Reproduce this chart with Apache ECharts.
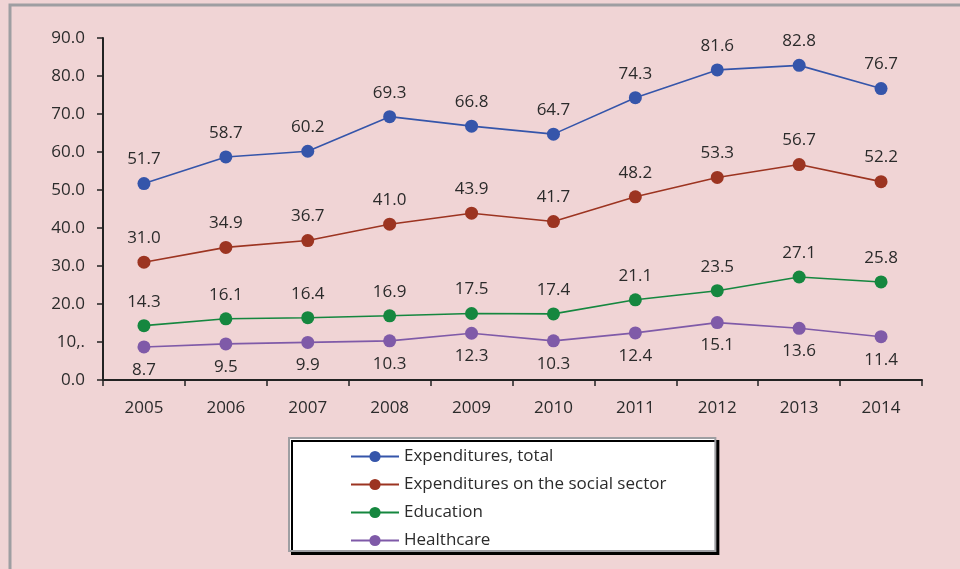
<!DOCTYPE html>
<html>
<head>
<meta charset="utf-8">
<script src="https://cdn.jsdelivr.net/npm/echarts@6/dist/echarts.min.js"></script>
<style>
  html, body { margin: 0; padding: 0; background: #f0d4d5; }
  #chart { width: 960px; height: 569px; }
</style>
</head>
<body>
<div id="chart"></div>
<script>
const years = ['2005', '2006', '2007', '2008', '2009', '2010', '2011', '2012', '2013', '2014'];
const expendituresTotal = [51.7, 58.7, 60.2, 69.3, 66.8, 64.7, 74.3, 81.6, 82.8, 76.7];
const socialSector = [31.0, 34.9, 36.7, 41.0, 43.9, 41.7, 48.2, 53.3, 56.7, 52.2];
const education = [14.3, 16.1, 16.4, 16.9, 17.5, 17.4, 21.1, 23.5, 27.1, 25.8];
const healthcare = [8.7, 9.5, 9.9, 10.3, 12.3, 10.3, 12.4, 15.1, 13.6, 11.4];
const yTickLabels = ['0.0', '10,.', '20.0', '30.0', '40.0', '50.0', '60.0', '70.0', '80.0', '90.0'];
const seriesNames = ['Expenditures, total', 'Expenditures on the social sector', 'Education', 'Healthcare'];

const FONT = '"Open Sans", "Noto Sans", sans-serif';
const TEXT = '#2b2b2b';
const FS = 17;

function lineSeries(name, data, color, labelPos, labelDist) {
  return {
    name: name,
    type: 'line',
    data: data,
    symbol: 'circle',
    symbolSize: 13,
    itemStyle: { color: color },
    lineStyle: { color: color, width: 1.6 },
    label: {
      show: true,
      position: labelPos,
      distance: labelDist,
      color: TEXT,
      fontFamily: FONT,
      fontSize: FS,
      formatter: p => p.value.toFixed(1)
    },
    emphasis: { disabled: true },
    animation: false
  };
}

const chart = echarts.init(document.getElementById('chart'));
chart.setOption({
  backgroundColor: '#f0d4d5',
  textStyle: { fontFamily: FONT },
  graphic: [{
    type: 'rect',
    shape: { x: 10, y: 5, width: 1000, height: 700 },
    style: { fill: 'none', stroke: '#9e9ea2', lineWidth: 3 },
    silent: true
  }],
  grid: { left: 103, right: 38, top: 38, bottom: 189 },
  xAxis: {
    type: 'category',
    data: years,
    boundaryGap: true,
    axisLine: { lineStyle: { color: '#222', width: 2 } },
    axisTick: { show: true, length: 6, lineStyle: { color: '#222', width: 1.5 } },
    axisLabel: { color: TEXT, fontSize: FS, fontFamily: FONT, margin: 20 }
  },
  yAxis: {
    type: 'value',
    min: 0, max: 90, interval: 10,
    splitLine: { show: false },
    axisLine: { show: true, lineStyle: { color: '#222', width: 2 } },
    axisTick: { show: true, length: 6, lineStyle: { color: '#222', width: 1.5 } },
    axisLabel: {
      color: TEXT, fontSize: FS, fontFamily: FONT, margin: 18,
      formatter: v => yTickLabels[Math.round(v / 10)]
    }
  },
  legend: {
    data: seriesNames,
    orient: 'vertical',
    left: 289, top: 438,
    itemWidth: 48, itemHeight: 14, itemGap: 11,
    padding: [10, 49, 2, 61],
    backgroundColor: '#ffffff',
    borderColor: '#9e9ea2', borderWidth: 2,
    shadowColor: '#000', shadowBlur: 0, shadowOffsetX: 3, shadowOffsetY: 3,
    textStyle: { color: TEXT, fontSize: FS, fontFamily: FONT, lineHeight: 17 },
    selectedMode: false
  },
  series: [
    lineSeries(seriesNames[0], expendituresTotal, '#3555aa', 'top', 9),
    lineSeries(seriesNames[1], socialSector, '#9c3421', 'top', 9),
    lineSeries(seriesNames[2], education, '#15873f', 'top', 9),
    lineSeries(seriesNames[3], healthcare, '#7f5aa8', 'bottom', 8)
  ]
});
</script>
</body>
</html>
